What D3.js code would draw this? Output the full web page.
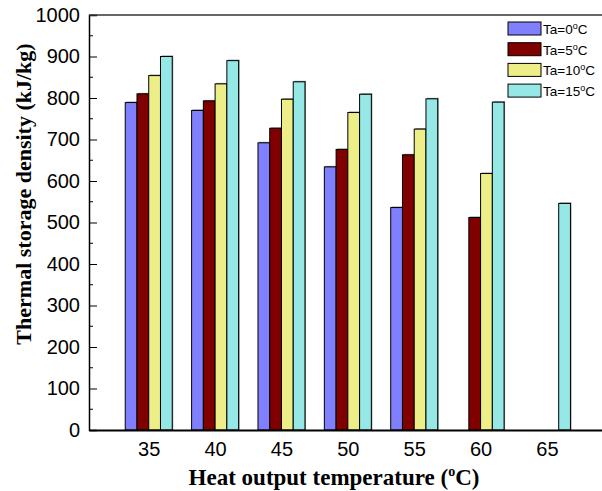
<!DOCTYPE html>
<html><head><meta charset="utf-8">
<script src="https://cdn.jsdelivr.net/npm/d3@7"></script>
<style>body{margin:0;background:#fff}svg{display:block}</style>
</head><body><svg id="c" width="602" height="491"></svg>
<script>
const temps = [35, 40, 45, 50, 55, 60, 65];
const seriesNames = ["Ta=0", "Ta=5", "Ta=10", "Ta=15"];
const ta0  = [789, 770, 692, 634, 536, null, null];
const ta5  = [810, 793, 727, 676, 663, 512, null];
const ta10 = [854, 834, 797, 765, 725, 618, null];
const ta15 = [900, 890, 839, 809, 798, 790, 546];
const colors = ["#8080FF", "#800000", "#EEEE88", "#96E8E6"];
const yTicks = [0,100,200,300,400,500,600,700,800,900,1000];

const series = [ta0, ta5, ta10, ta15];
const svg = d3.select("#c");
const L = 89, T = 15, B = 430, R = 610;
const x = d3.scaleLinear().domain([30.5, 69.75]).range([L, R]);
const y = d3.scaleLinear().domain([0, 1000]).range([B, T]);
const sub = d3.scaleBand().domain(d3.range(4)).range([-23.5, 23.5]);

// bars
series.forEach((vals, si) => {
  const g = svg.append("g");
  vals.forEach((v, i) => {
    if (v == null) return;
    const x0 = x(temps[i]) + sub(si);
    g.append("rect").attr("x", x0 + 1).attr("y", y(v) - 1)
      .attr("width", sub.bandwidth()).attr("height", B - y(v) + 1)
      .attr("fill", "#888");
    g.append("rect").attr("x", x0).attr("y", y(v))
      .attr("width", sub.bandwidth()).attr("height", B - y(v))
      .attr("fill", colors[si]).attr("stroke", "#000").attr("stroke-width", 1);
  });
});

// y axis
const yAxis = d3.axisLeft(y).tickValues(yTicks).tickSize(-8).tickPadding(11).tickFormat(d3.format("d"));
const ya = svg.append("g").attr("transform", `translate(${L},0)`).call(yAxis);
ya.select(".domain").attr("stroke", "#000").attr("stroke-width", 1.5);
ya.selectAll(".tick line").attr("stroke", "#000").attr("stroke-width", 1);
ya.selectAll("text").attr("font-family", "Liberation Sans, Arial, sans-serif").attr("font-size", 20).attr("fill", "#000").attr("dx", 2);
// minor ticks
const minor = d3.range(50, 1000, 100);
svg.append("g").selectAll("line").data(minor).join("line")
  .attr("x1", L).attr("x2", L + 4).attr("y1", d => y(d)).attr("y2", d => y(d))
  .attr("stroke", "#000");

// x axis
const xAxis = d3.axisBottom(x).tickValues(temps).tickSize(0).tickPadding(12).tickFormat(d3.format("d"));
const xa = svg.append("g").attr("transform", `translate(0,${B})`).call(xAxis);
xa.select(".domain").attr("stroke", "#000").attr("stroke-width", 2);
xa.selectAll("text").attr("font-family", "Liberation Sans, Arial, sans-serif").attr("font-size", 20).attr("fill", "#000");

// top frame
svg.append("line").attr("x1", L).attr("x2", R).attr("y1", T).attr("y2", T).attr("stroke", "#333").attr("stroke-width", 1.5);

// axis titles
const xt = svg.append("text").attr("x", 334).attr("y", 485).attr("text-anchor", "middle")
  .attr("font-family", "Liberation Serif, Times New Roman, serif").attr("font-weight", "bold").attr("font-size", 23).attr("fill", "#000");
xt.append("tspan").text("Heat output temperature (");
xt.append("tspan").attr("font-size", 14).attr("dy", -9).text("o");
xt.append("tspan").attr("dy", 9).text("C)");

svg.append("text").attr("transform", "translate(31,194) rotate(-90)").attr("text-anchor", "middle")
  .attr("font-family", "Liberation Serif, Times New Roman, serif").attr("font-weight", "bold").attr("font-size", 22).attr("fill", "#000")
  .text("Thermal storage density (kJ/kg)");

// legend
const lg = svg.append("g");
seriesNames.forEach((n, i) => {
  const yy = 22 + i * 20.7;
  lg.append("rect").attr("x", 508).attr("y", yy).attr("width", 33).attr("height", 13)
    .attr("fill", colors[i]).attr("stroke", "#000").attr("stroke-width", 1);
  const t = lg.append("text").attr("x", 543).attr("y", yy + 12)
    .attr("font-family", "Liberation Sans, Arial, sans-serif").attr("font-size", 13.5).attr("fill", "#000");
  t.append("tspan").text(n);
  t.append("tspan").attr("font-size", 9).attr("dy", -5).text("o");
  t.append("tspan").attr("dy", 5).text("C");
});
</script></body></html>
